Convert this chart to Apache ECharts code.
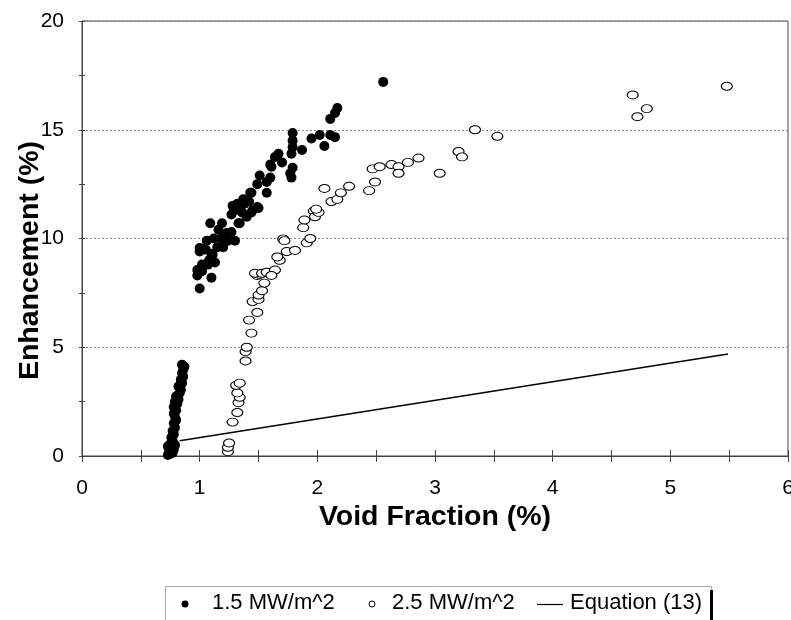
<!DOCTYPE html>
<html lang="en">
<head>
  <meta charset="UTF-8">
  <title>Enhancement vs Void Fraction</title>
  <script src="https://cdn.jsdelivr.net/npm/echarts@6.0.0/dist/echarts.min.js"></script>
  <style>
    html, body { margin: 0; padding: 0; background: #fff; }
    #chart { width: 791px; height: 620px; }
  </style>
</head>
<body>
  <div id="chart"></div>
  <script>
    // 1.5 MW/m^2 points [void fraction %, enhancement %]
    const filled15 = [
      [0.73, 0.05], [0.75, 0.1], [0.77, 0.15], [0.74, 0.25], [0.76, 0.35], [0.78, 0.3], [0.73, 0.45],
      [0.75, 0.55], [0.79, 0.5], [0.77, 0.7], [0.76, 0.85], [0.78, 1.0], [0.77, 1.15], [0.79, 1.3],
      [0.78, 1.5], [0.8, 1.65], [0.79, 1.8], [0.78, 1.95], [0.8, 2.1], [0.78, 2.25], [0.81, 2.4],
      [0.79, 2.5], [0.82, 2.6], [0.8, 2.75], [0.83, 2.9], [0.84, 3.05], [0.82, 3.2], [0.85, 3.35],
      [0.84, 3.5], [0.86, 3.65], [0.85, 3.8], [0.86, 3.95], [0.87, 4.1], [0.85, 4.2],
      [1.0, 7.7], [0.98, 8.3], [0.98, 8.55], [1.02, 8.5], [1.1, 8.2], [1.02, 8.8], [1.07, 8.8], [1.08, 9.0],
      [1.13, 8.9], [1.0, 9.4], [1.0, 9.56], [1.03, 9.5], [1.05, 9.5], [1.1, 9.3], [1.11, 9.25], [1.15, 9.6],
      [1.2, 9.6], [1.06, 9.9], [1.12, 10.0], [1.18, 10.0], [1.24, 9.9], [1.3, 9.9], [1.09, 10.7],
      [1.16, 10.4], [1.19, 10.7], [1.23, 10.25], [1.27, 10.3], [1.33, 10.7], [1.34, 10.7], [1.27, 11.1],
      [1.3, 11.3], [1.28, 11.5], [1.34, 11.5], [1.38, 11.6], [1.37, 11.8], [1.42, 11.7], [1.36, 11.2],
      [1.44, 11.2], [1.45, 11.3], [1.4, 11.0], [1.49, 11.45], [1.5, 11.4], [1.32, 11.6], [1.44, 12.1],
      [1.43, 12.1], [1.49, 12.5], [1.57, 12.1], [1.51, 12.9], [1.57, 12.6], [1.6, 12.8], [1.61, 13.3],
      [1.6, 13.4], [1.64, 13.75], [1.67, 13.9], [1.7, 13.5], [1.78, 12.8], [1.77, 13.0], [1.79, 13.25],
      [1.78, 13.9], [1.87, 14.07], [1.79, 14.2], [1.79, 14.5], [1.79, 14.85], [1.95, 14.6], [2.02, 14.76],
      [2.11, 14.76], [2.15, 14.66], [2.06, 14.25], [2.11, 15.5], [2.15, 15.77], [2.17, 16.0], [2.56, 17.2]
    ];

    // 2.5 MW/m^2 points
    const hollow25 = [
      [1.24, 0.2], [1.24, 0.4], [1.25, 0.6], [1.28, 1.56], [1.32, 2.0], [1.33, 2.45], [1.34, 2.7],
      [1.32, 2.9], [1.31, 3.25], [1.34, 3.35], [1.39, 4.37], [1.39, 4.8], [1.4, 5.0], [1.44, 5.65],
      [1.42, 6.25], [1.49, 6.6], [1.45, 7.1], [1.5, 7.2], [1.5, 7.4], [1.53, 7.6], [1.55, 7.95],
      [1.49, 8.3], [1.51, 8.35], [1.47, 8.4], [1.53, 8.4], [1.57, 8.45], [1.64, 8.55], [1.61, 8.3],
      [1.68, 9.0], [1.66, 9.15], [1.74, 9.4], [1.81, 9.45], [1.71, 9.98], [1.72, 9.9], [1.91, 9.8],
      [1.94, 10.0], [1.88, 10.5], [1.89, 10.85], [1.97, 11.26], [1.98, 11.0], [2.01, 11.2], [1.99, 11.35],
      [2.12, 11.7], [2.17, 11.8], [2.2, 12.1], [2.06, 12.3], [2.27, 12.4], [2.44, 12.2], [2.49, 12.6],
      [2.47, 13.2], [2.53, 13.3], [2.63, 13.4], [2.69, 13.3], [2.69, 13.0], [2.77, 13.5], [2.86, 13.7],
      [3.04, 13.0], [3.2, 14.0], [3.23, 13.75], [3.34, 15.0], [3.53, 14.7], [4.68, 16.6], [4.72, 15.6],
      [4.8, 15.97], [5.48, 17.0]
    ];

    // Equation (13) line
    const eqX = [0.83, 5.49];
    const eqY = [0.7, 4.69];

    const legendNames = ['1.5 MW/m^2', '2.5 MW/m^2', 'Equation (13)'];

    const chart = echarts.init(document.getElementById('chart'));
    const font = 'Liberation Sans, Arial, sans-serif';
    const axisColor = '#444';
    const legendText = { fontFamily: font, fontSize: 22, fill: '#000', verticalAlign: 'middle' };

    const option = {
      animation: false,
      textStyle: { fontFamily: font, color: '#000' },
      grid: {
        left: 82, top: 21, right: 3, bottom: 164,
        outerBoundsMode: 'none',
        show: true, borderColor: axisColor, borderWidth: 1
      },
      // legend box drawn by hand (boxed, with the dark right edge)
      graphic: [
        { type: 'rect', shape: { x: 165.5, y: 586.5, width: 546, height: 40 },
          style: { fill: '#fff', stroke: '#aaa', lineWidth: 1 } },
        { type: 'rect', shape: { x: 710, y: 590, width: 3, height: 30 }, style: { fill: '#000' } },
        { type: 'circle', shape: { cx: 185, cy: 604, r: 3.5 }, style: { fill: '#000' } },
        { type: 'text', left: 212, top: 592, style: Object.assign({ text: legendNames[0], y: 12 }, legendText) },
        { type: 'circle', shape: { cx: 372, cy: 604, r: 3 }, style: { fill: '#fff', stroke: '#000', lineWidth: 1 } },
        { type: 'text', left: 392, top: 592, style: Object.assign({ text: legendNames[1], y: 12 }, legendText) },
        { type: 'line', shape: { x1: 537, y1: 604.5, x2: 563, y2: 604.5 }, style: { stroke: '#000', lineWidth: 1.2 } },
        { type: 'text', left: 570, top: 592, style: Object.assign({ text: legendNames[2], y: 12 }, legendText) }
      ],
      xAxis: [{
        type: 'value', min: 0, max: 6, interval: 1,
        name: 'Void Fraction (%)', nameLocation: 'middle', nameGap: 47, nameMoveOverlap: false,
        nameTextStyle: { fontFamily: font, fontSize: 28.5, fontWeight: 'bold', color: '#000' },
        axisLine: { lineStyle: { color: axisColor } },
        axisTick: { show: true, length: 6, lineStyle: { color: axisColor } },
        minorTick: { show: true, splitNumber: 2, length: 6, lineStyle: { color: axisColor } },
        axisLabel: { fontFamily: font, fontSize: 21, color: '#000', margin: 22, hideOverlap: false },
        splitLine: { show: false }
      }, {
        type: 'value', min: 0, max: 6, interval: 1, position: 'bottom',
        axisLine: { show: false },
        axisTick: { show: true, inside: true, length: 6, lineStyle: { color: axisColor } },
        minorTick: { show: true, splitNumber: 2, length: 6, lineStyle: { color: axisColor } },
        axisLabel: { show: false },
        splitLine: { show: false }
      }],
      yAxis: [{
        type: 'value', min: 0, max: 20, interval: 5,
        name: 'Enhancement (%)', nameLocation: 'middle', nameGap: 37, nameMoveOverlap: false,
        nameTextStyle: { fontFamily: font, fontSize: 28.5, fontWeight: 'bold', color: '#000', padding: [0, 44, 0, 0] },
        axisLine: { show: true, lineStyle: { color: axisColor } },
        axisTick: { show: true, length: 3, lineStyle: { color: axisColor } },
        minorTick: { show: true, splitNumber: 2, length: 3, lineStyle: { color: axisColor } },
        axisLabel: { fontFamily: font, fontSize: 21, color: '#000', margin: 18 },
        splitLine: { show: true, lineStyle: { color: '#888', type: [2, 2], width: 1 } }
      }, {
        type: 'value', min: 0, max: 20, interval: 5, position: 'left',
        axisLine: { show: false },
        axisTick: { show: true, inside: true, length: 3, lineStyle: { color: axisColor } },
        minorTick: { show: true, splitNumber: 2, length: 3, lineStyle: { color: axisColor } },
        axisLabel: { show: false },
        splitLine: { show: false }
      }],
      series: [
        {
          name: legendNames[2],
          type: 'line',
          data: eqX.map((x, i) => [x, eqY[i]]),
          symbol: 'none',
          lineStyle: { color: '#000', width: 1.5 },
          z: 1
        },
        {
          name: legendNames[1],
          type: 'scatter',
          data: hollow25,
          symbol: 'circle',
          symbolSize: [11, 8],
          itemStyle: { color: '#fff', borderColor: '#000', borderWidth: 1, opacity: 1 },
          z: 2
        },
        {
          name: legendNames[0],
          type: 'scatter',
          data: filled15,
          symbol: 'circle',
          symbolSize: 10,
          itemStyle: { color: '#000', opacity: 1 },
          z: 3
        }
      ]
    };

    chart.setOption(option);
  </script>
</body>
</html>
